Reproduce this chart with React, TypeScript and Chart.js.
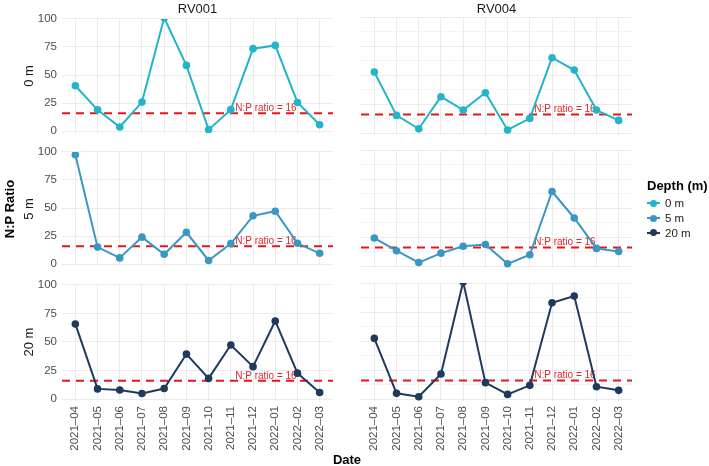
import React, { useEffect, useRef } from "react";
import { Chart, registerables } from "chart.js";
Chart.register(...registerables);

Chart.defaults.font.family = "'Liberation Sans', Arial, Helvetica, sans-serif";

// ---------- data ----------
const months = [
  "2021–04", "2021–05", "2021–06", "2021–07", "2021–08", "2021–09",
  "2021–10", "2021–11", "2021–12", "2022–01", "2022–02", "2022–03",
];
const sites = ["RV001", "RV004"];
const depths = ["0 m", "5 m", "20 m"];

const rv001_0m = [40.5, 19, 3.7, 25.9, 101, 58.6, 1.4, 19.2, 73.5, 76.4, 25.6, 5.7];
const rv004_0m = [52.6, 15.2, 3.7, 31.3, 19.8, 34.7, 2.6, 12.6, 64.9, 54.3, 19.8, 10.9];
const rv001_5m = [97.4, 15.2, 5.6, 24.1, 8.8, 28.4, 3.3, 18.3, 43.1, 47.2, 18.6, 9.7];
const rv004_5m = [24.1, 13.2, 3.0, 11.1, 17.1, 18.6, 1.9, 9.7, 64.2, 41.4, 15.2, 12.6];
const rv001_20m = [65.8, 8.9, 8.0, 4.9, 9.2, 39.4, 18.1, 47.4, 28.4, 68.4, 22.7, 5.7];
const rv004_20m = [52.3, 4.9, 2.0, 21.6, 101, 14.1, 4.0, 11.8, 83.0, 88.8, 10.6, 7.5];

const panelValues = [
  [rv001_0m, rv004_0m],
  [rv001_5m, rv004_5m],
  [rv001_20m, rv004_20m],
];

const yTickLabels = [0, 25, 50, 75, 100];
const yMinorTicks = [12.5, 37.5, 62.5, 87.5];
const threshold = 16;
const thresholdLabel = "N:P ratio = 16";
const thresholdLabelX = 8.58;

// ---------- styles ----------
const depthColors = ["#22B4C8", "#3A97C2", "#1E3A5C"];
const RED = "#E8161B";
const RED_TEXT = "#E3262A";
const GRID = "#EBEBEB";
const GRID_MINOR = "#F4F4F4";
const TICK_COLOR = "#4D4D4D";
const FONT = "'Liberation Sans', Arial, Helvetica, sans-serif";

const PANEL_LEFT = [62, 361];
const PANEL_W = 271;
const ROW_TOP = [17, 150, 283];
const PANEL_H = 118;
const Y_AXIS_W = 42;
const X_AXIS_H = 56;
const PAD = 10;
const Y_MIN = -1.7;
const Y_MAX = 100;
const X_MIN = -0.6;
const X_MAX = 11.6;

const thresholdLabelPlugin = {
  id: "thresholdLabel",
  afterDatasetDraw(chart: any, args: any) {
    if (args.index !== 0) return;
    const { ctx, scales } = chart;
    ctx.save();
    ctx.font = `10px ${FONT}`;
    ctx.fillStyle = RED_TEXT;
    ctx.textAlign = "center";
    ctx.textBaseline = "middle";
    ctx.fillText(
      thresholdLabel,
      scales.x.getPixelForValue(thresholdLabelX),
      scales.y.getPixelForValue(threshold) - 5
    );
    ctx.restore();
  },
};

function Panel({ row, col }: { row: number; col: number }) {
  const ref = useRef<HTMLCanvasElement>(null);
  const showY = col === 0;
  const showX = row === 2;
  const left = PANEL_LEFT[col] - (showY ? Y_AXIS_W : 0) - PAD;
  const top = ROW_TOP[row] - PAD;
  const width = PANEL_W + (showY ? Y_AXIS_W : 0) + 2 * PAD;
  const height = PANEL_H + (showX ? X_AXIS_H : 0) + 2 * PAD;
  const values = panelValues[row][col];
  const color = depthColors[row];

  useEffect(() => {
    if (!ref.current) return;
    const chart = new Chart(ref.current, {
      type: "line",
      data: {
        datasets: [
          {
            label: "threshold",
            data: [
              { x: X_MIN, y: threshold },
              { x: X_MAX, y: threshold },
            ],
            borderColor: RED,
            borderWidth: 2,
            borderDash: [8, 6],
            pointRadius: 0,
            order: 2,
            clip: 0,
          } as any,
          {
            label: depths[row],
            data: values.map((v, i) => ({ x: i, y: v })),
            borderColor: color,
            backgroundColor: color,
            borderWidth: 2,
            pointRadius: 3.8,
            pointBorderWidth: 0,
            pointBackgroundColor: color,
            tension: 0,
            order: 1,
            clip: 0,
          } as any,
        ],
      },
      options: {
        responsive: false,
        animation: false,
        events: [],
        layout: { padding: PAD },
        plugins: {
          legend: { display: false },
          tooltip: { enabled: false },
        },
        scales: {
          x: {
            type: "linear",
            min: X_MIN,
            max: X_MAX,
            afterBuildTicks: (s: any) => {
              s.ticks = months.map((_, i) => ({ value: i }));
            },
            afterFit: (s: any) => {
              s.height = showX ? X_AXIS_H : 0;
            },
            ticks: {
              display: showX,
              autoSkip: false,
              minRotation: 90,
              maxRotation: 90,
              padding: 5,
              color: TICK_COLOR,
              font: { size: 11.5 },
              callback: (v: any) => months[Math.round(Number(v))],
            },
            grid: { color: GRID, lineWidth: 1, drawTicks: false },
            border: { display: false },
          },
          y: {
            type: "linear",
            min: Y_MIN,
            max: Y_MAX,
            afterBuildTicks: (s: any) => {
              s.ticks = [...yTickLabels, ...yMinorTicks]
                .sort((a, b) => a - b)
                .map((v) => ({ value: v }));
            },
            afterFit: (s: any) => {
              s.width = showY ? Y_AXIS_W : 0;
            },
            ticks: {
              display: showY,
              padding: 5,
              color: TICK_COLOR,
              font: { size: 11.5 },
              callback: (v: any) =>
                yTickLabels.includes(Number(v)) ? String(v) : "",
            },
            grid: {
              color: (ctx: any) =>
                yTickLabels.includes(ctx.tick?.value) ? GRID : GRID_MINOR,
              lineWidth: 1,
              drawTicks: false,
            },
            border: { display: false },
          },
        },
      } as any,
      plugins: [thresholdLabelPlugin],
    });
    return () => chart.destroy();
  }, []);

  return (
    <canvas
      ref={ref}
      width={width}
      height={height}
      style={{ position: "absolute", left, top, width, height }}
    />
  );
}

function Txt({
  x, y, text, size = 13, bold = false, color = "#1A1A1A", rotate = false,
}: {
  x: number; y: number; text: string; size?: number; bold?: boolean; color?: string; rotate?: boolean;
}) {
  return (
    <div
      style={{
        position: "absolute",
        left: x,
        top: y,
        transform: `translate(-50%, -50%)${rotate ? " rotate(-90deg)" : ""}`,
        whiteSpace: "nowrap",
        fontFamily: FONT,
        fontSize: size,
        fontWeight: bold ? "bold" : "normal",
        lineHeight: 1,
        color,
      }}
    >
      {text}
    </div>
  );
}

export default function App() {
  const rowCenters = ROW_TOP.map((t) => t + PANEL_H / 2);
  return (
    <div
      style={{
        position: "absolute",
        left: 0,
        top: 0,
        width: 709,
        height: 466,
        background: "#fff",
        overflow: "hidden",
      }}
    >
      {[0, 1, 2].map((r) =>
        [0, 1].map((c) => <Panel key={`${r}-${c}`} row={r} col={c} />)
      )}
      {sites.map((s, c) => (
        <Txt key={s} x={PANEL_LEFT[c] + PANEL_W / 2} y={7.5} text={s} />
      ))}
      {depths.map((d, r) => (
        <Txt key={d} x={27.5} y={rowCenters[r]} text={d} rotate />
      ))}
      <Txt x={9} y={209} text="N:P Ratio" bold color="#000" rotate />
      <Txt x={347} y={459} text="Date" bold color="#000" />
      <div
        style={{
          position: "absolute",
          left: 647,
          top: 178,
          fontFamily: FONT,
          fontSize: 13,
          fontWeight: "bold",
          lineHeight: "16px",
          whiteSpace: "nowrap",
          color: "#000",
        }}
      >
        Depth (m)
      </div>
      {depths.map((d, i) => {
        const cy = 203.3 + 14.7 * i;
        return (
          <React.Fragment key={d}>
            <div
              style={{
                position: "absolute",
                left: 647,
                top: cy - 1,
                width: 13,
                height: 2,
                background: depthColors[i],
              }}
            />
            <div
              style={{
                position: "absolute",
                left: 650,
                top: cy - 3.5,
                width: 7,
                height: 7,
                borderRadius: "50%",
                background: depthColors[i],
              }}
            />
            <div
              style={{
                position: "absolute",
                left: 665,
                top: cy - 7,
                fontFamily: FONT,
                fontSize: 11.5,
                lineHeight: "14px",
                whiteSpace: "nowrap",
                color: "#1A1A1A",
              }}
            >
              {d}
            </div>
          </React.Fragment>
        );
      })}
    </div>
  );
}
